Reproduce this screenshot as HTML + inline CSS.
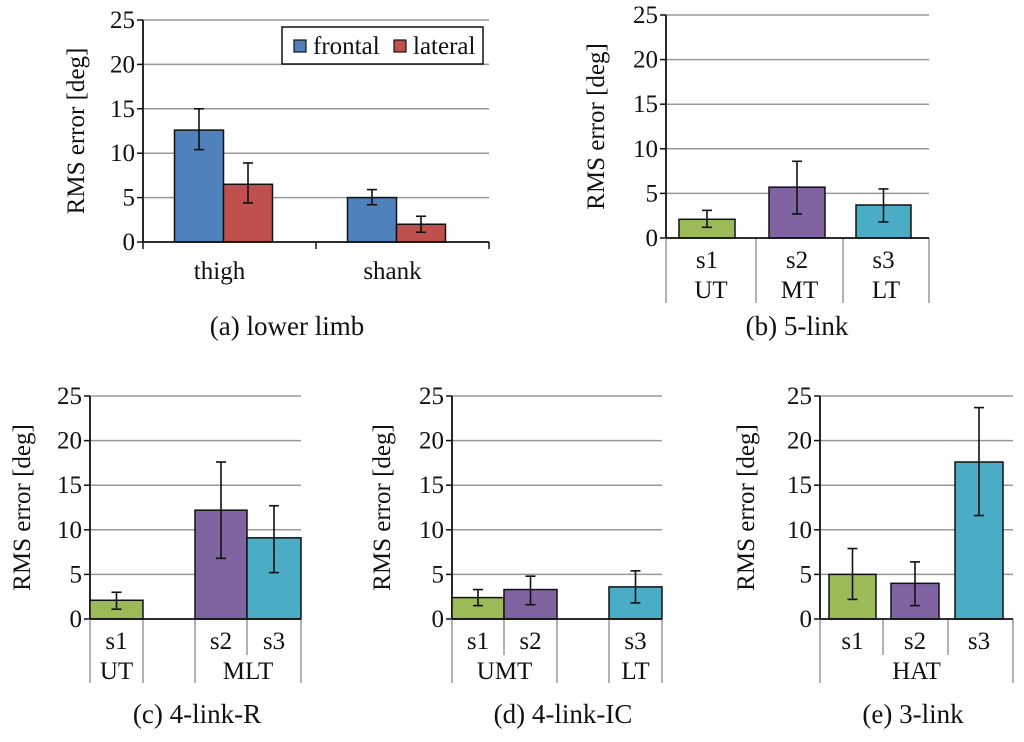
<!DOCTYPE html>
<html><head><meta charset="utf-8"><style>
html,body{margin:0;padding:0;background:#fff;}
svg text{font-family:"Liberation Serif","Times New Roman",serif;fill:#111;}
</style></head><body>
<svg id="root" width="1024" height="737" viewBox="0 0 1024 737" xmlns="http://www.w3.org/2000/svg"></svg>
<script>
// ---- data ----
const yTicks = [0,5,10,15,20,25];
// (a) lower limb
const aCategories = ["thigh","shank"];
const aFrontal = [12.6, 5.0];
const aFrontalLo = [10.4, 4.2];
const aFrontalHi = [15.0, 5.9];
const aLateral = [6.5, 2.0];
const aLateralLo = [4.4, 1.1];
const aLateralHi = [8.9, 2.9];
// (b) 5-link
const bLabels = ["s1","s2","s3"];
const bGroups = ["UT","MT","LT"];
const bValues = [2.1, 5.7, 3.7];
const bLo = [1.2, 2.7, 1.8];
const bHi = [3.1, 8.6, 5.5];
// (c) 4-link-R
const cLabels = ["s1","s2","s3"];
const cGroups = ["UT","MLT"];
const cValues = [2.1, 12.2, 9.1];
const cLo = [1.1, 6.8, 5.2];
const cHi = [3.0, 17.6, 12.7];
// (d) 4-link-IC
const dLabels = ["s1","s2","s3"];
const dGroups = ["UMT","LT"];
const dValues = [2.4, 3.3, 3.6];
const dLo = [1.5, 1.6, 1.8];
const dHi = [3.3, 4.8, 5.4];
// (e) 3-link
const eLabels = ["s1","s2","s3"];
const eGroups = ["HAT"];
const eValues = [5.0, 4.0, 17.6];
const eLo = [2.2, 1.5, 11.6];
const eHi = [7.9, 6.4, 23.7];

const COL = {blue:"#4f81bd",red:"#c0504d",green:"#9bbb59",purple:"#8064a2",teal:"#4bacc6"};
const NS="http://www.w3.org/2000/svg";
const root=document.getElementById('root');
function mk(tag,attrs,parent,txt){const e=document.createElementNS(NS,tag);for(const k in attrs)e.setAttribute(k,attrs[k]);if(txt!==undefined)e.textContent=txt;(parent||root).appendChild(e);return e;}

function axes(g,x0,x1,y0,y25,titleX){
  const ys=v=>y0-(y0-y25)*v/25;
  yTicks.forEach(t=>{
    if(t>0){const l=mk('line',{x1:x0,x2:x1,y1:ys(t),y2:ys(t),stroke:'#999','stroke-width':1.5},g);
    
    }
    const tk=mk('line',{x1:x0-6,x2:x0,y1:ys(t),y2:ys(t),stroke:'#111','stroke-width':1.5},g);
    
    
    const tl=mk('text',{x:x0-8,y:ys(t)+8,'text-anchor':'end','font-size':25},g,String(t));
    
    
  });
  const ax=mk('line',{x1:x0,x2:x0,y1:y25,y2:y0,stroke:'#111','stroke-width':1.8},g);
  
  
  const yt=mk('text',{x:0,y:0,'text-anchor':'middle','font-size':25,transform:`translate(${titleX},${(y0+y25)/2}) rotate(-90)`},g,'RMS error [deg]');
  
  
  return ys;
}
function bar(g,xa,xb,v,lo,hi,color,ys,name){
  const r=mk('rect',{x:xa,y:ys(v),width:xb-xa,height:ys(0)-ys(v),fill:color,stroke:'#111','stroke-width':1.5},g);
  
  
  const cx=(xa+xb)/2;
  const eg=mk('g',{stroke:'#111','stroke-width':1.6},g);
  
  
  mk('line',{x1:cx,x2:cx,y1:ys(hi),y2:ys(lo)},eg);
  mk('line',{x1:cx-5,x2:cx+5,y1:ys(hi),y2:ys(hi)},eg);
  mk('line',{x1:cx-5,x2:cx+5,y1:ys(lo),y2:ys(lo)},eg);
}
function baseline(g,x0,x1,y0){
  const b=mk('line',{x1:x0,x2:x1,y1:y0,y2:y0,stroke:'#111','stroke-width':1.8},g);
  
  
}
function vsep(g,x,y0,y1,name){
  const l=mk('line',{x1:x,x2:x,y1:y0,y2:y1,stroke:'#999','stroke-width':1.5},g);
  
  
}
function txt(g,x,y,s,size,name){
  const t=mk('text',{x:x,y:y,'text-anchor':'middle','font-size':size},g,s);
  
  
  return t;
}
function panel(name){const g=mk('g',{});return g;}

// ---- (a) ----
(function(){
  const g=panel('chart-a-lower-limb');
  const x0=143,x1=489,y0=242,y25=20;
  const ys=axes(g,x0,x1,y0,y25,84);
  const catW=(x1-x0)/aCategories.length, bw=49;
  aCategories.forEach((c,i)=>{
    const cx=x0+catW*(i+0.5)-6;
    bar(g,cx-bw,cx,aFrontal[i],aFrontalLo[i],aFrontalHi[i],COL.blue,ys,'bar-'+c+'-frontal');
    bar(g,cx,cx+bw,aLateral[i],aLateralLo[i],aLateralHi[i],COL.red,ys,'bar-'+c+'-lateral');
    txt(g,x0+catW*(i+0.5)-10,279,c,25,'x-label-'+c);
  });
  baseline(g,x0,x1,y0);
  for(let i=0;i<=aCategories.length;i++){const x=x0+catW*i;const t=mk('line',{x1:x,x2:x,y1:y0,y2:y0+7,stroke:'#111','stroke-width':1.5},g);}
  const lg=mk('g',{},g);
  mk('rect',{x:282,y:27,width:201,height:37,fill:'#fff',stroke:'#111','stroke-width':1.5},lg);
  const l1=mk('rect',{x:294,y:40,width:12,height:12,fill:COL.blue,stroke:'#111','stroke-width':1.2},lg);
  
  const t1=mk('text',{x:313,y:54,'font-size':25},lg,'frontal');
  const l2=mk('rect',{x:394,y:40,width:12,height:12,fill:COL.red,stroke:'#111','stroke-width':1.2},lg);
  
  const t2=mk('text',{x:413,y:54,'font-size':25},lg,'lateral');
  txt(g,287,335,'(a) lower limb',27,'chart-a-caption');
})();

// generic sub-figure with slot positions
function seg(gname,caption,capX,capY,x0,x1,y0,y25,titleX,labels,groups,vals,lo,hi,slots,groupSpans,sepsShort,sepsFull,rowS,rowG,bottom){
  const g=panel(gname);
  const ys=axes(g,x0,x1,y0,y25,titleX);
  const colors=[COL.green,COL.purple,COL.teal];
  labels.forEach((l,i)=>{
    bar(g,slots[i][0],slots[i][1],vals[i],lo[i],hi[i],colors[i],ys,'bar-'+l);
    txt(g,(slots[i][0]+slots[i][1])/2,rowS,l,25,'x-label-'+l);
  });
  groups.forEach((gr,i)=>txt(g,(groupSpans[i][0]+groupSpans[i][1])/2,rowG,gr,25,'group-label-'+gr.toLowerCase()));
  sepsShort.forEach((x,i)=>vsep(g,x,y0,rowS+6,'separator-short-'+i));
  sepsFull.forEach((x,i)=>vsep(g,x,y0,bottom,'separator-'+i));
  baseline(g,x0,x1,y0);
  txt(g,capX,capY,caption,27,gname+'-caption');
}
seg('chart-b-5-link','(b) 5-link',797,335,666,929,238,15,604,bLabels,bGroups,bValues,bLo,bHi,
  [[679,735],[769,825],[856,911]],[[666,756],[756,843],[843,929]],[],[666,756,843,929],268,298,303);
seg('chart-c-4-link-r','(c) 4-link-R',197,723,90,301,619,396,30,cLabels,cGroups,cValues,cLo,cHi,
  [[90,143],[195,247],[247,301]],[[90,143],[195,301]],[247],[90,143,195,301],649,679,683);
seg('chart-d-4-link-ic','(d) 4-link-IC',563,723,452,662,619,396,390,dLabels,dGroups,dValues,dLo,dHi,
  [[452,504],[504,557],[609,662]],[[452,557],[609,662]],[504],[452,557,609,662],649,679,683);
seg('chart-e-3-link','(e) 3-link',913,723,820,1013,619,396,754,eLabels,eGroups,eValues,eLo,eHi,
  [[829,876],[891,939],[955,1003]],[[820,1013]],[883,948],[820,1013],649,679,683);
</script>
</body></html>
